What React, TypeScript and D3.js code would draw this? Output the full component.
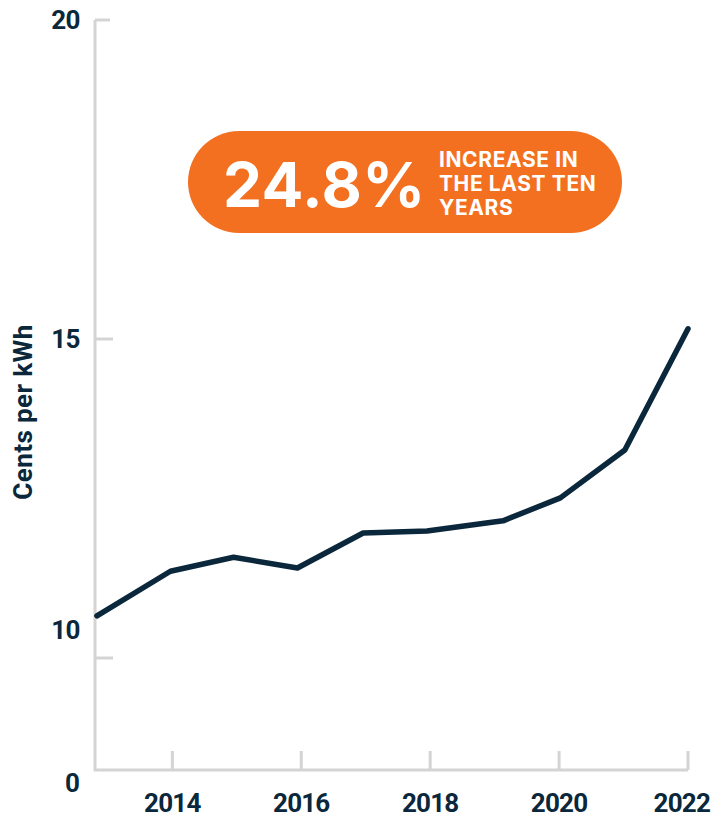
import React, { useEffect, useRef } from "react";
import * as d3 from "d3";

// Electricity price, cents per kWh (x as fractional year)
const years = [2012.83, 2013.97, 2014.95, 2015.94, 2016.96, 2017.95, 2019.13, 2020.02, 2021.02, 2022.0];
const cents = [10.66, 11.36, 11.58, 11.41, 11.96, 11.99, 12.15, 12.51, 13.26, 15.16];
const xTicks = [2014, 2016, 2018, 2020, 2022];
const yTicks = [20, 15, 10];

const NAVY = "#0b273b";
const GRID = "#d4d4d4";
const ORANGE = "#f37021";
const AXIS_FONT = "Roboto, 'Noto Sans', sans-serif";
const BADGE_FONT = "Inter, 'Noto Sans', sans-serif";

export default function App() {
  const svgRef = useRef<SVGSVGElement | null>(null);

  useEffect(() => {
    const width = 712;
    const height = 817;
    const svg = d3.select(svgRef.current).attr("width", width).attr("height", height);
    svg.selectAll("*").remove();

    const x = d3.scaleLinear().domain([2012.8, 2022]).range([95, 688]);
    const y = d3.scaleLinear().domain([10, 20]).range([658, 20]);
    const bottom = 770;

    // axes
    const axes = svg.append("g").attr("stroke", GRID).attr("stroke-width", 3).attr("fill", "none");
    axes
      .append("path")
      .attr("d", `M${x(2012.8)},${y(20)}V${bottom}H${x(2022)}`)
      .attr("stroke-linejoin", "miter");
    axes
      .selectAll("line.yt")
      .data(yTicks)
      .join("line")
      .attr("x1", x(2012.8))
      .attr("x2", (d) => (d === 20 ? 110 : 113))
      .attr("y1", (d) => y(d))
      .attr("y2", (d) => y(d));
    axes
      .selectAll("line.xt")
      .data(xTicks)
      .join("line")
      .attr("x1", (d) => x(d))
      .attr("x2", (d) => x(d))
      .attr("y1", bottom)
      .attr("y2", bottom - 19);

    // y tick labels (the "10" label sits above its tick in the original)
    const labelOffset: Record<number, number> = { 20: 0, 15: 0, 10: -28 };
    svg
      .append("g")
      .selectAll("text")
      .data(yTicks)
      .join("text")
      .attr("x", 80)
      .attr("y", (d) => y(d) + labelOffset[d])
      .attr("dy", "0.36em")
      .attr("text-anchor", "end")
      .attr("font-family", AXIS_FONT)
      .attr("font-weight", 700)
      .attr("font-size", 26)
      .attr("letter-spacing", -0.5)
      .attr("fill", NAVY)
      .text((d) => d);
    svg
      .append("text")
      .attr("x", 80)
      .attr("y", bottom + 13)
      .attr("dy", "0.36em")
      .attr("text-anchor", "end")
      .attr("font-family", AXIS_FONT)
      .attr("font-weight", 700)
      .attr("font-size", 26)
      .attr("fill", NAVY)
      .text("0");

    // x tick labels
    svg
      .append("g")
      .selectAll("text")
      .data(xTicks)
      .join("text")
      .attr("x", (d) => (d === 2022 ? 710 : x(d)))
      .attr("y", 803)
      .attr("dy", "0.36em")
      .attr("text-anchor", (d) => (d === 2022 ? "end" : "middle"))
      .attr("font-family", AXIS_FONT)
      .attr("font-weight", 700)
      .attr("font-size", 26)
      .attr("letter-spacing", -0.8)
      .attr("fill", NAVY)
      .text((d) => d);

    // axis title
    svg
      .append("text")
      .attr("transform", `translate(23,${412}) rotate(-90)`)
      .attr("dy", "0.36em")
      .attr("text-anchor", "middle")
      .attr("font-family", AXIS_FONT)
      .attr("font-weight", 700)
      .attr("font-size", 26)
      .attr("letter-spacing", 0.4)
      .attr("fill", NAVY)
      .text("Cents per kWh");

    // line
    const line = d3
      .line<number>()
      .x((_, i) => x(years[i]))
      .y((d) => y(d));
    svg
      .append("path")
      .datum(cents)
      .attr("fill", "none")
      .attr("stroke", NAVY)
      .attr("stroke-width", 5.5)
      .attr("stroke-linejoin", "round")
      .attr("stroke-linecap", "round")
      .attr("d", line);

    // callout badge
    const badge = svg.append("g");
    badge
      .append("rect")
      .attr("x", 188)
      .attr("y", 131)
      .attr("width", 434)
      .attr("height", 102)
      .attr("rx", 51)
      .attr("fill", ORANGE);
    badge
      .append("text")
      .attr("x", 223)
      .attr("y", 207)
      .attr("font-family", BADGE_FONT)
      .attr("font-weight", 700)
      .attr("font-size", 62)
      .attr("letter-spacing", 0.5)
      .attr("fill", "#fff")
      .text("24.8%");
    const lines = ["INCREASE IN", "THE LAST TEN", "YEARS"];
    badge
      .append("g")
      .selectAll("text")
      .data(lines)
      .join("text")
      .attr("x", 439)
      .attr("y", (_, i) => 167 + i * 24)
      .attr("font-family", BADGE_FONT)
      .attr("font-weight", 700)
      .attr("font-size", 21)
      .attr("letter-spacing", 0.6)
      .attr("fill", "#fff")
      .text((d) => d);
  }, []);

  return <svg ref={svgRef} style={{ position: "absolute", left: 0, top: 0 }}></svg>;
}
